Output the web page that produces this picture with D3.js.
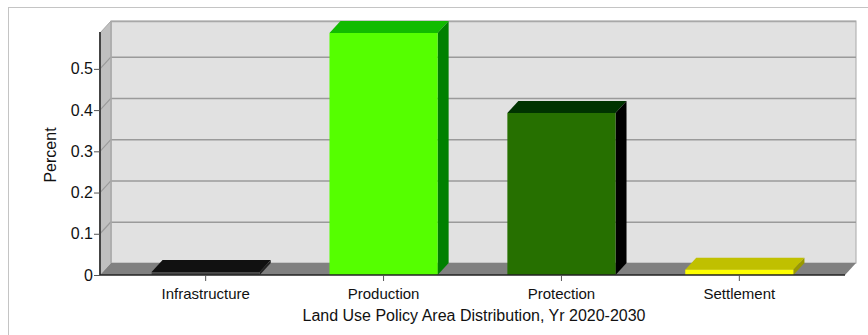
<!DOCTYPE html>
<html>
<head>
<meta charset="utf-8">
<script src="https://cdn.jsdelivr.net/npm/d3@7"></script>
<style>
  body { margin: 0; background: #fff; }
  text { font-family: "Liberation Sans", Arial, sans-serif; fill: #111; }
</style>
</head>
<body>
<script>
// data
var categories = ["Infrastructure", "Production", "Protection", "Settlement"];
var percents = [0.007, 0.587, 0.393, 0.013];
var yTicks = [0, 0.1, 0.2, 0.3, 0.4, 0.5];
var frontColors = ["#444444", "#55ff00", "#267000", "#ffff00"];
var topColors = ["#111111", "#11bb00", "#003300", "#c0c000"];
var sideColors = ["#222222", "#008000", "#000000", "#999900"];
var xTitle = "Land Use Policy Area Distribution, Yr 2020-2030";
var yTitle = "Percent";

var W = 868, H = 335;
// note: "top" is a reserved window global, so use plot* names
var plotL = 100, plotR = 845, plotB = 275, plotT = 33;
var dx = 11, dy = 12;

var svg = d3.select("body").append("svg")
    .attr("width", W)
    .attr("height", H);

// outer frame
svg.append("rect")
    .attr("x", 8.5).attr("y", 7.5)
    .attr("width", W).attr("height", H)
    .attr("fill", "none")
    .attr("stroke", "#c4c4c4");

var x = d3.scaleBand()
    .domain(categories)
    .range([plotL, plotR])
    .paddingInner(0.392)
    .paddingOuter(0.29);

var y = d3.scaleLinear()
    .domain([0, d3.max(percents)])
    .range([plotB, plotT]);

function poly(pts) { return "M" + pts.map(function(p) { return p.join(","); }).join("L") + "Z"; }

// back wall
svg.append("rect")
    .attr("x", plotL + dx).attr("y", plotT - dy)
    .attr("width", plotR - plotL).attr("height", plotB - plotT)
    .attr("fill", "#e1e1e1")
    .attr("stroke", "#a8a8a8");

// left wall
svg.append("path")
    .attr("d", poly([[plotL, plotT], [plotL + dx, plotT - dy], [plotL + dx, plotB - dy], [plotL, plotB]]))
    .attr("fill", "#c0c0c0");

// floor
svg.append("path")
    .attr("d", poly([[plotL, plotB], [plotL + dx, plotB - dy], [plotR + dx, plotB - dy], [plotR, plotB]]))
    .attr("fill", "#808080");

// grid lines
var grid = svg.append("g");
yTicks.filter(function(d) { return d > 0; }).forEach(function(v) {
  grid.append("line")
      .attr("x1", plotL + dx).attr("x2", plotR + dx)
      .attr("y1", y(v) - dy + 0.5).attr("y2", y(v) - dy + 0.5)
      .attr("stroke", "#9a9a9a").attr("stroke-width", 1.5);
  grid.append("line")
      .attr("x1", plotL).attr("x2", plotL + dx)
      .attr("y1", y(v)).attr("y2", y(v) - dy)
      .attr("stroke", "#9a9a9a").attr("stroke-width", 1.2);
});
grid.append("line")
    .attr("x1", plotL + dx).attr("x2", plotR + dx)
    .attr("y1", plotT - dy + 0.5).attr("y2", plotT - dy + 0.5)
    .attr("stroke", "#a8a8a8").attr("stroke-width", 1.5);
grid.append("line")
    .attr("x1", plotL + dx).attr("x2", plotL + dx)
    .attr("y1", plotT - dy).attr("y2", plotB - dy)
    .attr("stroke", "#a8a8a8").attr("stroke-width", 1.5);
grid.append("line")
    .attr("x1", plotL).attr("x2", plotL + dx)
    .attr("y1", plotT).attr("y2", plotT - dy)
    .attr("stroke", "#a8a8a8").attr("stroke-width", 1);

// bars
var bars = svg.selectAll(".bar")
    .data(categories)
  .enter().append("g")
    .attr("class", "bar");

bars.append("path")
    .attr("d", function(d, i) {
      var x0 = x(d), x1 = x(d) + x.bandwidth(), yt = y(percents[i]);
      return poly([[x0, yt], [x0 + dx, yt - dy], [x1 + dx, yt - dy], [x1, yt]]);
    })
    .attr("fill", function(d, i) { return topColors[i]; });

bars.append("path")
    .attr("d", function(d, i) {
      var x1 = x(d) + x.bandwidth(), yt = y(percents[i]);
      return poly([[x1, yt], [x1 + dx, yt - dy], [x1 + dx, plotB - dy], [x1, plotB]]);
    })
    .attr("fill", function(d, i) { return sideColors[i]; });

bars.append("rect")
    .attr("x", function(d) { return x(d); })
    .attr("y", function(d, i) { return y(percents[i]); })
    .attr("width", x.bandwidth())
    .attr("height", function(d, i) { return plotB - y(percents[i]); })
    .attr("fill", function(d, i) { return frontColors[i]; });

// front axis lines
svg.append("line")
    .attr("x1", plotL).attr("x2", plotL)
    .attr("y1", plotT - 1).attr("y2", plotB)
    .attr("stroke", "#444").attr("stroke-width", 2);
svg.append("line")
    .attr("x1", plotL).attr("x2", plotR)
    .attr("y1", plotB).attr("y2", plotB)
    .attr("stroke", "#222").attr("stroke-width", 1.5);

// y axis
var yAxis = svg.append("g")
    .attr("transform", "translate(" + plotL + ",0)")
    .call(d3.axisLeft(y)
        .tickValues(yTicks)
        .tickSize(6)
        .tickPadding(1)
        .tickFormat(function(d) { return d === 0 ? "0" : d3.format(".1f")(d); }));
yAxis.select(".domain").remove();
yAxis.selectAll("line").attr("stroke", "#555");
yAxis.selectAll("text").attr("font-size", 16).attr("fill", "#111")
    .style("font-family", "'Liberation Sans', Arial, sans-serif");

// x axis
var xAxis = svg.append("g")
    .attr("transform", "translate(0," + plotB + ")")
    .call(d3.axisBottom(x).tickSize(6).tickPadding(7));
xAxis.select(".domain").remove();
xAxis.selectAll("line").attr("stroke", "#555");
xAxis.selectAll("text").attr("font-size", 15).attr("fill", "#111")
    .style("font-family", "'Liberation Sans', Arial, sans-serif");

// titles
svg.append("text")
    .attr("x", 474)
    .attr("y", 321)
    .attr("text-anchor", "middle")
    .attr("font-size", 16)
    .text(xTitle);

svg.append("text")
    .attr("transform", "translate(56,155) rotate(-90)")
    .attr("text-anchor", "middle")
    .attr("font-size", 16)
    .text(yTitle);
</script>
</body>
</html>
